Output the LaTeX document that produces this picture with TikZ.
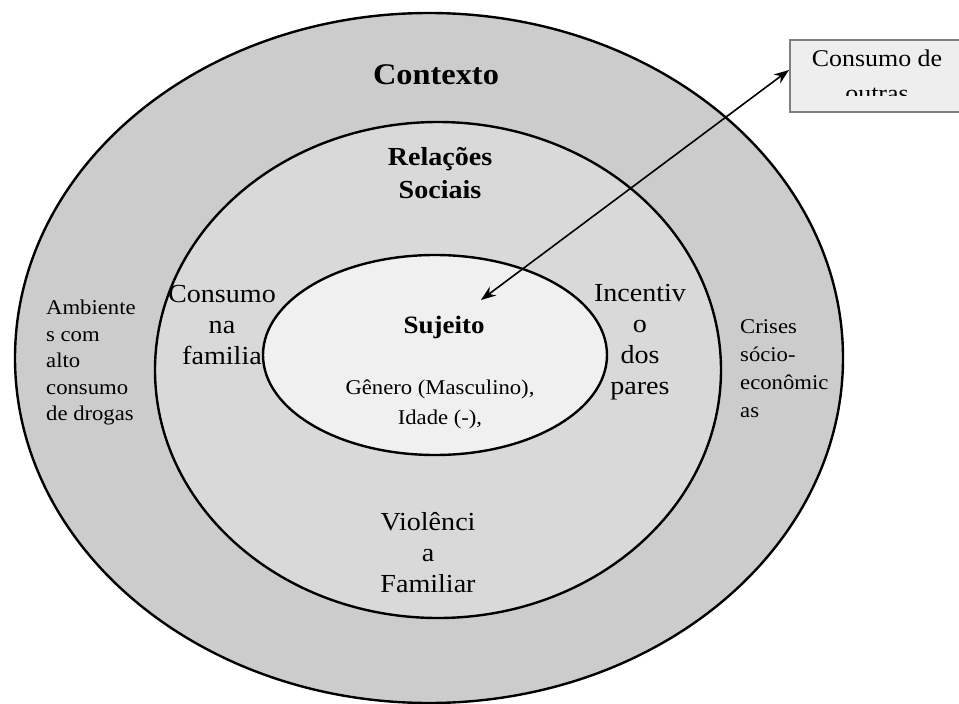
\documentclass[tikz,border=0pt]{standalone}
\usepackage{fontspec}
\setmainfont[FakeStretch=1.08]{Liberation Serif}
\usetikzlibrary{shapes.geometric,arrows.meta}
\definecolor{outerfill}{HTML}{CCCCCC}
\definecolor{midfill}{HTML}{D9D9D9}
\definecolor{innerfill}{HTML}{F0F0F0}
\definecolor{boxfill}{HTML}{EEEEEE}
\definecolor{boxline}{HTML}{7F7F7F}
\tikzset{
  ring/.style={ellipse, draw=black, line width=2.4pt, inner sep=0pt},
  bigtxt/.style={font=\fontsize{26}{31}\selectfont, align=center, inner sep=0pt},
  smalltxt/.style={font=\fontsize{21}{26.5}\selectfont, align=left, inner sep=0pt, anchor=north west},
  titletxt/.style={font=\bfseries\fontsize{26}{33}\selectfont, align=center, inner sep=0pt},
  boxtxtstyle/.style={font=\fontsize{24}{35}\selectfont, inner sep=0pt, anchor=base},
  linkarrow/.style={<->, >={Stealth[length=15pt,width=11pt]}, line width=1.6pt}
}
\begin{document}
\begin{tikzpicture}[x=1pt,y=-1pt]
\useasboundingbox (0,0) rectangle (959,704);
% rings
\node[ring, fill=outerfill, minimum width=828pt, minimum height=690pt] (outer) at (429,358) {};
\node[ring, fill=midfill, minimum width=566pt, minimum height=496pt] (mid) at (438,370) {};
\node[ring, fill=innerfill, minimum width=344pt, minimum height=200pt] (inner) at (435,355) {};
% titles
\node[font=\bfseries\fontsize{30}{33}\selectfont, inner sep=0pt] (ctx) at (436,75) {Contexto};
\node[titletxt] (rel) at (440,173) {Relações\\Sociais};
\node[font=\bfseries\fontsize{25}{28}\selectfont, inner sep=0pt] (suj) at (444,327) {Sujeito};
\node[font=\fontsize{21}{30}\selectfont, align=center, inner sep=0pt] (gen) at (440,404) {Gênero (Masculino),\\Idade (-),};
% middle ring texts
\node[bigtxt] (fam) at (222,325) {Consumo\\na\\familia};
\node[bigtxt] (pares) at (640,342) {Incentiv\\o\\dos\\pares};
\node[bigtxt] (viol) at (428,553) {Violênci\\a\\Familiar};
% outer ring texts
\node[smalltxt] (amb) at (46,300) {Ambiente\\s com\\alto\\consumo\\de drogas};
\node[smalltxt, font=\fontsize{21}{28}\selectfont] (crises) at (740,319) {Crises\\sócio-\\econômic\\as};
% box
\node[draw=boxline, fill=boxfill, line width=2pt, minimum width=175pt, minimum height=72pt, inner sep=0pt] (box) at (877.5,76) {};
\begin{scope}
\clip (791,41) rectangle (958,95);
\node[boxtxtstyle] (boxtxta) at (877,66) {Consumo de};
\node[boxtxtstyle] (boxtxtb) at (877,101) {outras};
\end{scope}
% arrow
\coordinate (tipin) at (481,300);
\coordinate (tipout) at (789,70);
\draw[linkarrow] (tipin) -- (tipout);
\end{tikzpicture}
\end{document}
